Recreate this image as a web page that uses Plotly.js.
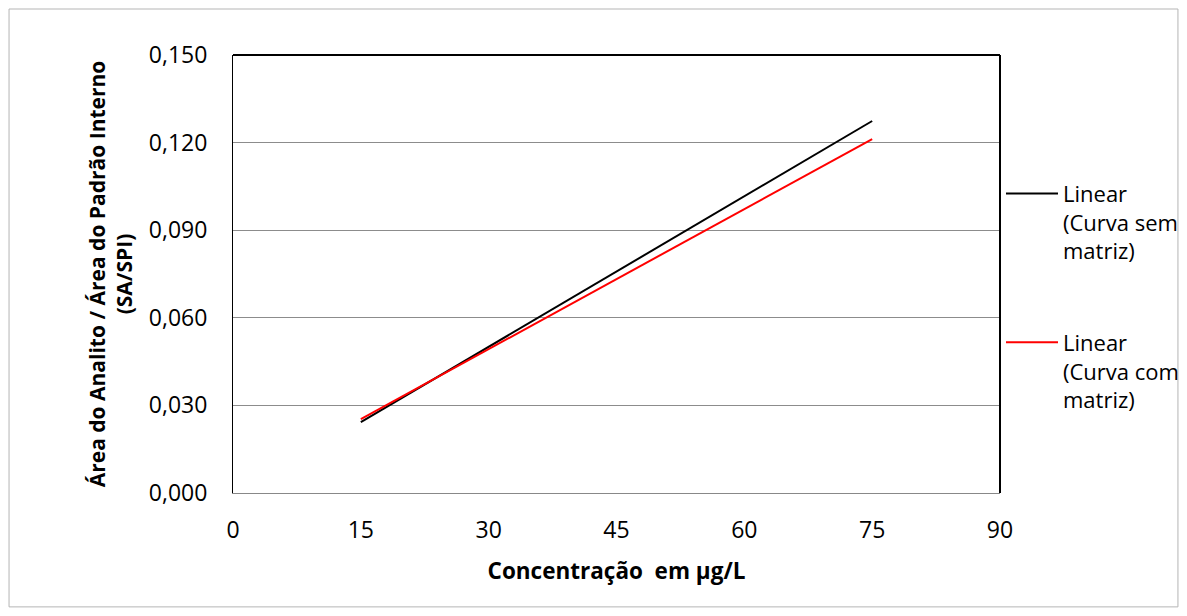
<!DOCTYPE html>
<html>
<head>
<meta charset="utf-8">
<script src="https://cdn.plot.ly/plotly-3.0.1.min.js"></script>
<style>html,body{margin:0;padding:0;background:#fff;}#chart{width:1187px;height:616px;}</style>
</head>
<body>
<div id="chart"></div>
<script>
// Data
const concentracao = [15, 75];
const curvaSemMatriz = [0.0243, 0.1274];
const curvaComMatriz = [0.0253, 0.1212];
const xTicks = [0, 15, 30, 45, 60, 75, 90];
const yTicks = [0, 0.03, 0.06, 0.09, 0.12, 0.15];
const yTickLabels = ["0,000", "0,030", "0,060", "0,090", "0,120", "0,150"];
const seriesNames = ["Linear<br>(Curva sem<br>matriz)", "Linear<br>(Curva com<br>matriz)"];

const FONT = "Open Sans, Noto Sans, sans-serif";

const traces = [
  {x: concentracao, y: curvaSemMatriz, mode: "lines", name: seriesNames[0],
   line: {color: "#000000", width: 2}, legendgroup: "a"},
  {x: concentracao, y: curvaComMatriz, mode: "lines", name: seriesNames[1],
   line: {color: "#ff0000", width: 2}, legendgroup: "b"}
];

const layout = {
  width: 1187, height: 616,
  margin: {l: 233, r: 187, t: 55, b: 123, pad: 0},
  paper_bgcolor: "#ffffff", plot_bgcolor: "#ffffff",
  font: {family: FONT, size: 23, color: "#000"},
  showlegend: true,
  legend: {xref: "container", yref: "container", x: 0.8433, xanchor: "left", y: 0.7196, yanchor: "top", valign: "top",
           font: {family: FONT, size: 22, color: "#000"}, tracegroupgap: 60,
           itemwidth: 52, bgcolor: "rgba(0,0,0,0)"},
  xaxis: {range: [0, 90], tickvals: xTicks, ticktext: xTicks.map(String),
          showgrid: false, zeroline: false, showline: true, linecolor: "#888888", linewidth: 1,
          ticks: "", ticklabelstandoff: 16, tickfont: {family: FONT, size: 23},
          title: {text: "<b>Concentração  em µg/L</b>", font: {family: FONT, size: 22.5}, standoff: 19},
          fixedrange: true},
  yaxis: {range: [0, 0.15], tickvals: yTicks, ticktext: yTickLabels,
          showgrid: true, gridcolor: "#8c8c8c", gridwidth: 1, zeroline: false,
          showline: true, linecolor: "#000000", linewidth: 1, mirror: false,
          ticks: "", ticklabelstandoff: 20, tickfont: {family: FONT, size: 23},
          title: {text: "<b>Área do Analito / Área do Padrão Interno<br>(SA/SPI)</b>", font: {family: FONT, size: 21}, standoff: 10},
          fixedrange: true},
  shapes: [
    {type: "line", xref: "paper", yref: "paper", x0: 0, x1: 1, y0: 1, y1: 1, line: {color: "#000", width: 2}},
    {type: "line", xref: "paper", yref: "paper", x0: 1, x1: 1, y0: 0, y1: 1, line: {color: "#000", width: 2}},
    {type: "rect", xref: "paper", yref: "paper", x0: -0.292, x1: 1.232, y0: -0.260, y1: 1.105,
     line: {color: "#b5b5b5", width: 1}, layer: "below"}
  ]
};

Plotly.newPlot("chart", traces, layout, {displayModeBar: false, staticPlot: true});
</script>
</body>
</html>
